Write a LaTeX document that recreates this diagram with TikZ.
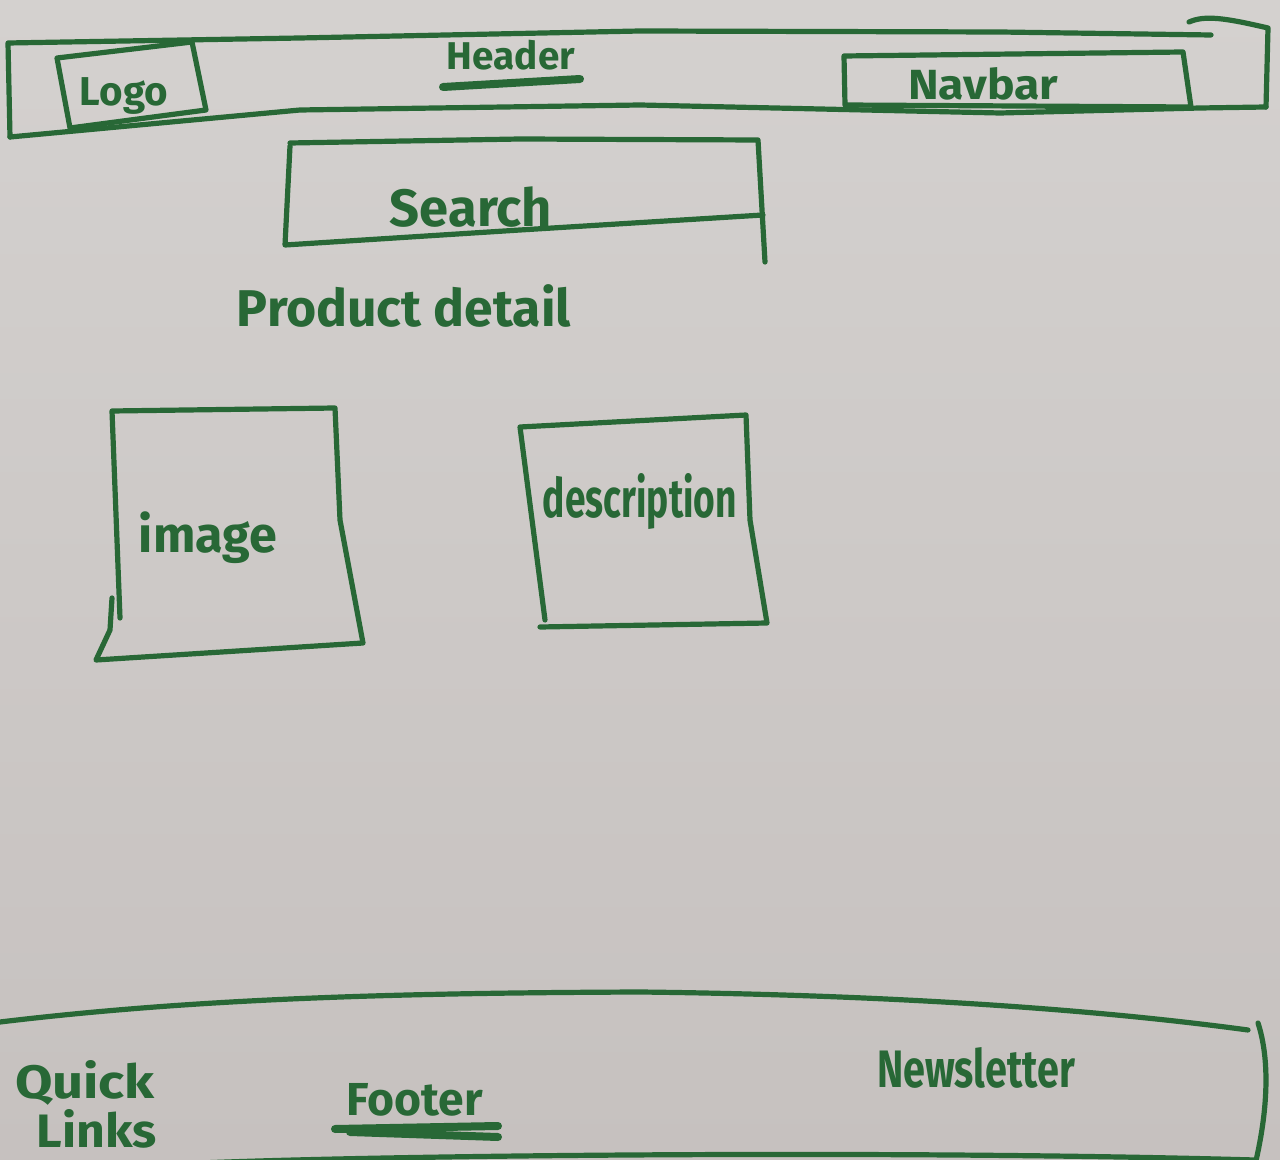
\documentclass[tikz,border=0pt]{standalone}
\usepackage{fontspec}
\setmainfont{Fira Sans}
\usepackage{graphicx}
\definecolor{ink}{RGB}{40,104,54}
\definecolor{papertop}{RGB}{212,209,207}
\definecolor{paperbot}{RGB}{198,193,191}
\newcommand\fitw[2]{\resizebox{#1pt}{!}{\bfseries #2}}
\newcommand\fitwh[3]{\resizebox{#1pt}{#2pt}{\bfseries #3}}
\tikzset{
  pen/.style={draw=ink, line width=2.6pt, line cap=round, line join=round},
  thickpen/.style={draw=ink, line width=4pt, line cap=round},
  lbl/.style={text=ink, inner sep=0pt, anchor=base}
}
\begin{document}
\begin{tikzpicture}[x=0.5pt,y=-0.5pt]
\useasboundingbox (0,0) rectangle (1280,1160);
\shade[top color=papertop, bottom color=paperbot] (0,0) rectangle (1280,1160);
\begin{scope}
\clip (0,0) rectangle (1280,1160);
% header frame
\draw[pen] (10,137) -- (8,43) -- (300,38) -- (640,31) -- (1000,32) -- (1211,35);
\draw[pen] (1189,22) .. controls (1205,15) and (1225,18) .. (1268,28) -- (1266,107);
\draw[pen] (1266,107) -- (1200,108) -- (1000,113) -- (640,105) -- (300,110) -- (10,137);
% logo box
\draw[pen] (57,58) -- (192,42) -- (206,110) -- (70,128) -- cycle;
% navbar box
\draw[pen] (844,56) -- (1183,52) -- (1191,107) -- (845,105) -- cycle;
% search box
\draw[pen] (290,143) -- (520,139) -- (758,140) -- (765,262);
\draw[pen] (290,146) -- (285,245) -- (520,230) -- (763,215);
% image box
\draw[pen] (120,618) -- (112,411) -- (335,408) -- (340,520) -- (363,643) -- (96,660) -- (110,630) -- (112,598);
% description box
\draw[pen] (545,620) -- (520,427) -- (746,415) -- (750,520) -- (767,623) -- (540,627);
% footer frame
\draw[pen] (0,1022) .. controls (200,998) and (400,993) .. (640,992) .. controls (900,995) and (1100,1010) .. (1248,1030);
\draw[pen] (1258,1023) .. controls (1270,1060) and (1268,1110) .. (1255,1165);
\draw[pen] (200,1163) .. controls (400,1155) and (900,1150) .. (1255,1160);
\end{scope}
% labels
\node[lbl] (logo) at (124,106) {\fitw{44}{Logo}};
\node[lbl] (header) at (511,70) {\fitw{64}{Header}};
\draw[thickpen] (443,87) -- (580,79);
\node[lbl] (navbar) at (983,100) {\fitwh{75}{16}{Navbar}};
\node[lbl] (search) at (471,227) {\fitw{81}{Search}};
\node[lbl] (product) at (404,327) {\fitw{167}{Product detail}};
\node[lbl] (image) at (208,552) {\fitw{69}{image}};
\node[lbl] (desc) at (640,517) {\fitwh{97}{22}{description}};
\node[lbl] (quick) at (85,1098) {\fitwh{70}{19}{Quick}};
\node[lbl] (links) at (97,1147) {\fitwh{60}{19}{Links}};
\node[lbl] (footer) at (415,1115) {\fitw{68}{Footer}};
\draw[thickpen] (335,1129) -- (498,1126);
\draw[thickpen] (350,1132) -- (498,1137);
\node[lbl] (news) at (976,1087) {\fitwh{99}{20}{Newsletter}};
\end{tikzpicture}
\end{document}
